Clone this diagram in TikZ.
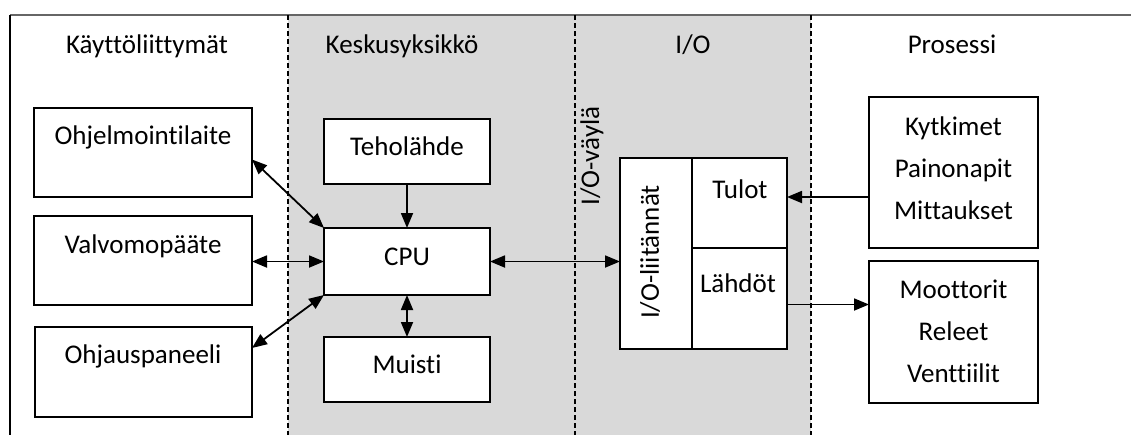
\documentclass[tikz,border=0pt]{standalone}
\usepackage{fontspec}
\setmainfont[Ligatures={NoCommon,NoContextual,NoRequired}]{Carlito}
\usetikzlibrary{arrows.meta}

\begin{document}
\begin{tikzpicture}[x=0.5pt,y=-0.5pt,
    box/.style={draw,line width=0.9pt,fill=white,inner sep=0pt,outer sep=0pt},
    txt/.style={inner sep=0pt,font=\fontsize{13.5}{16}\selectfont},
    sep/.style={line width=0.6pt,dash pattern=on 2.5pt off 1.5pt},
    link/.style={line width=0.9pt},
    >={Triangle[length=7.5pt,width=6pt]}]
    \useasboundingbox (0,0) rectangle (1131,435);

    % Shaded middle columns
    \fill[gray!30] (288,15) rectangle (811,435);

    % Frame and column borders
    \draw[gray!80!black,line width=1.2pt] (10,15) -- (1131,15);
    \draw[line width=0.9pt] (10,15) -- (10,435);
    \draw[sep] (288,15) -- (288,435);
    \draw[sep] (575,15) -- (575,435);
    \draw[sep] (811,15) -- (811,435);

    % Column titles
    \node[txt,anchor=base] (t1) at (147,53) {Käyttöliittymät};
    \node[txt,anchor=base] (t2) at (402,53) {Keskusyksikkö};
    \node[txt,anchor=base] (t3) at (693,53) {I/O};
    \node[txt,anchor=base] (t4) at (952,53) {Prosessi};

    % User interfaces
    \node[box,minimum width=109pt,minimum height=44.5pt] (ohj) at (143,152.5) {};
    \node[box,minimum width=109pt,minimum height=44.5pt] (valvo) at (143,260.5) {};
    \node[box,minimum width=108.5pt,minimum height=45pt] (ohjaus) at (143.5,372) {};
    \node[txt,anchor=base] (ohjt) at (143,144) {Ohjelmointilaite};
    \node[txt,anchor=base] (valvot) at (143,253) {Valvomopääte};
    \node[txt,anchor=base] (ohjaust) at (143,363) {Ohjauspaneeli};

    % Central unit
    \node[box,minimum width=83pt,minimum height=32.5pt] (teho) at (407,151.5) {};
    \node[box,minimum width=83pt,minimum height=33.5pt] (cpu) at (407,261.5) {};
    \node[box,minimum width=83pt,minimum height=32.5pt] (muisti) at (407,369.5) {};
    \node[txt,anchor=base] (tehot) at (407,155) {Teholähde};
    \node[txt,anchor=base] (cput) at (407,265) {CPU};
    \node[txt,anchor=base] (muistit) at (407,373) {Muisti};

    % I/O
    \node[txt,rotate=90] (vayla) at (592,156) {I/O-väylä};
    \node[box,minimum width=36pt,minimum height=95.5pt] (iol) at (656,253.5) {};
    \node[box,minimum width=47.5pt,minimum height=45pt] (tulot) at (739.5,203) {};
    \node[box,minimum width=47.5pt,minimum height=50.5pt] (lahdot) at (739.5,298.5) {};
    \node[txt,rotate=90] (iolt) at (650,252) {I/O-liitännät};
    \node[txt,anchor=base] (tulott) at (740,198) {Tulot};
    \node[txt,anchor=base] (lahdott) at (738,292) {Lähdöt};

    % Process
    \node[box,minimum width=84.5pt,minimum height=75.5pt] (pros1) at (953.5,172.5) {};
    \node[box,minimum width=84.5pt,minimum height=71pt] (pros2) at (953.5,332) {};
    \foreach \t [count=\i] in {Kytkimet,Painonapit,Mittaukset}
        \node[txt,anchor=base] (in\i) at (953.5,93+42*\i) {\t};
    \foreach \t [count=\i] in {Moottorit,Releet,Venttiilit}
        \node[txt,anchor=base] (out\i) at (953.5,256+42*\i) {\t};

    % Connections
    \draw[<->,link] ([yshift=-3.5pt]ohj.east) -- (cpu.north west);
    \draw[<->,link] (cpu.west -| valvo.east) -- (cpu.west);
    \draw[<->,link] ([yshift=12pt]ohjaus.east) -- (cpu.south west);
    \draw[->,link] (teho.south -| cpu.north) -- (cpu.north);
    \draw[<->,link] (cpu.south) -- (muisti.north);
    \draw[<->,link] (cpu.east) -- (cpu.east -| iol.west);
    \coordinate (tin) at ([yshift=3pt]tulot.east);
    \coordinate (lout) at ([yshift=-3pt]lahdot.east);
    \draw[->,link] (tin -| pros1.west) -- (tin);
    \draw[->,link] (lout) -- (lout -| pros2.west);
\end{tikzpicture}
\end{document}
